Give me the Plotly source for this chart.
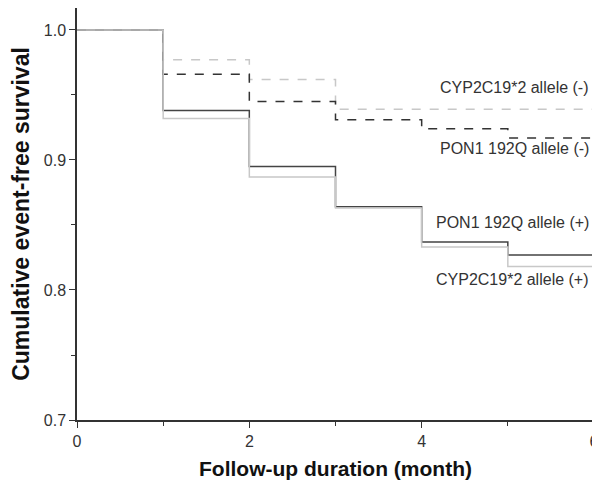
import plotly.graph_objects as go

months = [0, 1, 2, 3, 4, 5, 6]
cyp_neg = [1.0, 0.977, 0.962, 0.939, 0.939, 0.939, 0.939]
pon_neg = [1.0, 0.966, 0.945, 0.931, 0.924, 0.917, 0.917]
pon_pos = [1.0, 0.938, 0.895, 0.864, 0.837, 0.827, 0.827]
cyp_pos = [1.0, 0.932, 0.887, 0.863, 0.833, 0.818, 0.818]

labels = ["CYP2C19*2 allele (-)", "PON1 192Q allele (-)",
          "PON1 192Q allele (+)", "CYP2C19*2 allele (+)"]
label_y = [0.9555, 0.909, 0.852, 0.808]

fig = go.Figure()
fig.add_trace(go.Scatter(x=months, y=cyp_neg, mode="lines", line_shape="hv",
                         line=dict(color="#c8c8c8", width=1.5, dash="dash")))
fig.add_trace(go.Scatter(x=months, y=pon_neg, mode="lines", line_shape="hv",
                         line=dict(color="#333333", width=1.5, dash="dash")))
fig.add_trace(go.Scatter(x=months, y=pon_pos, mode="lines", line_shape="hv",
                         line=dict(color="#444444", width=1.5)))
fig.add_trace(go.Scatter(x=months, y=cyp_pos, mode="lines", line_shape="hv",
                         line=dict(color="#c8c8c8", width=1.5)))

for txt, yy in zip(labels, label_y):
    fig.add_annotation(x=6, y=yy, text=txt, showarrow=False, xanchor="right",
                       xshift=-3, font=dict(size=16, color="#333333"))

# page body adds an 8px offset, margins compensate for it
fig.update_layout(
    width=600, height=483,
    margin=dict(l=69, r=14, t=0, b=71),
    paper_bgcolor="white", plot_bgcolor="white",
    showlegend=False,
    font=dict(family="Liberation Sans, Arial", color="#333333"),
)
fig.update_xaxes(
    range=[0, 6], tickvals=[0, 2, 4, 6], ticks="outside", ticklen=6,
    tickcolor="#333333", showline=True, linecolor="#333333", linewidth=1.5,
    mirror=True, showgrid=False, zeroline=False, automargin=False,
    tickfont=dict(size=16, color="#333333"),
    minor=dict(tickvals=[1, 3, 5], ticks="outside", ticklen=4, tickcolor="#333333"),
    title=dict(text="<b>Follow-up duration (month)</b>", font=dict(size=21, color="#111111"), standoff=12),
)
fig.update_yaxes(
    range=[0.7, 1.0169], tickvals=[0.7, 0.8, 0.9, 1.0], ticktext=["0.7", "0.8", "0.9", "1.0"],
    ticks="outside", ticklen=6, tickcolor="#333333", showline=True,
    linecolor="#333333", linewidth=1.5, mirror=True, showgrid=False, zeroline=False,
    automargin=False, tickfont=dict(size=16, color="#333333"),
    minor=dict(tickvals=[0.75, 0.85, 0.95], ticks="outside", ticklen=4, tickcolor="#333333"),
    title=dict(text="<b>Cumulative event-free survival</b>", font=dict(size=23, color="#111111"), standoff=10),
)

fig.write_html("out.html")
